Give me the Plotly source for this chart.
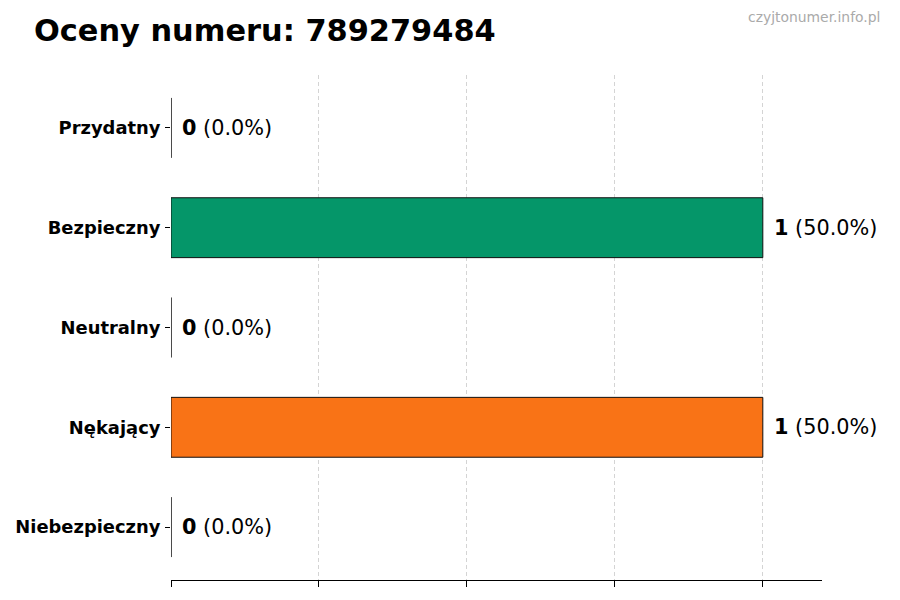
import plotly.graph_objects as go

categories = ["Niebezpieczny", "Nękający", "Neutralny", "Bezpieczny", "Przydatny"]
counts = [0, 1, 0, 1, 0]
colors = ["#dc2626", "#f97316", "#9ca3af", "#059669", "#3b82f6"]
total = sum(counts)
percents = [c / total * 100 for c in counts]

fig = go.Figure()
fig.add_trace(go.Bar(
    y=categories, x=counts, orientation="h", width=0.6,
    marker=dict(color=colors, line=dict(color="#111111", width=1)),
    hoverinfo="skip",
))

# value labels next to each bar
for cat, c, p in zip(categories, counts, percents):
    fig.add_annotation(
        x=c, y=cat, xref="x", yref="y", xanchor="left", yanchor="middle",
        xshift=9, showarrow=False,
        text=f"<b>{c}</b> ({p:.1f}%)",
        font=dict(family="DejaVu Sans", size=20.8, color="#000000"),
    )

# watermark top right
fig.add_annotation(
    x=1.092, y=1.115, xref="paper", yref="paper", xanchor="right", yanchor="middle",
    showarrow=False, text="czyjtonumer.info.pl",
    font=dict(family="DejaVu Sans", size=13.9, color="#aaaaaa"),
)

fig.update_layout(
    width=900, height=600,
    margin=dict(l=163, r=86, t=67, b=28),
    plot_bgcolor="white", paper_bgcolor="white",
    showlegend=False,
    font=dict(family="DejaVu Sans", color="#000000"),
    title=dict(
        text="<b>Oceny numeru: 789279484</b>",
        x=0.0289, xref="container", xanchor="left",
        y=0.963, yref="container", yanchor="middle",
        font=dict(family="DejaVu Sans", size=30.4, color="#000000"),
    ),
)
fig.update_xaxes(
    range=[0, 1.1], tickvals=[0, 0.25, 0.5, 0.75, 1.0], showticklabels=False,
    ticks="outside", ticklen=6, tickcolor="#000000",
    showgrid=True, gridcolor="rgba(170,170,170,0.5)", griddash="4px,3px", gridwidth=1,
    showline=True, linecolor="#000000", linewidth=1.2,
    zeroline=False, layer="above traces", automargin=False,
)
fig.update_yaxes(
    range=[-0.53, 4.53], ticks="outside", ticklen=5, tickcolor="#000000",
    tickfont=dict(family="DejaVu Sans", size=17.9, color="#000000"),
    ticklabelstandoff=1, automargin=False,
    showline=False, showgrid=False, zeroline=False,
    tickvals=categories, ticktext=[f"<b>{c}</b>" for c in categories],
)

fig.write_html("out.html")
